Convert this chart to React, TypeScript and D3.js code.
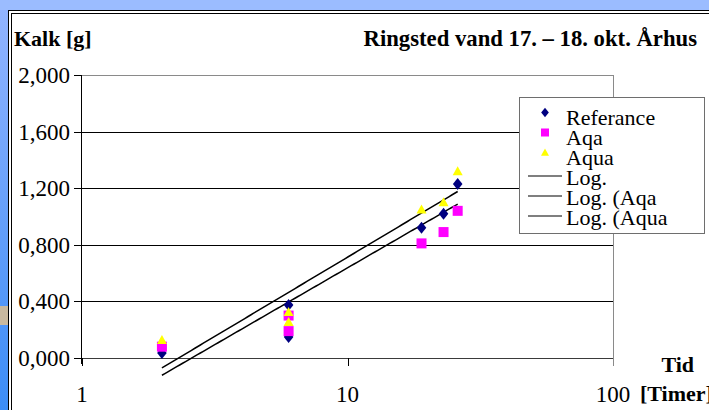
import React from "react";
import * as d3 from "d3";

// ---- data ----
const times = [2, 6, 6, 19, 23, 26];
const referanceVals = [0.035, 0.375, 0.148, 0.92, 1.02, 1.23];
const aqaVals = [0.08, 0.30, 0.19, 0.81, 0.89, 1.04];
const aquaVals = [0.127, 0.325, 0.254, 1.05, 1.1, 1.32];
const seriesNames = ["Referance", "Aqa", "Aqua"];
const trendLabels = ["Log.", "Log. (Aqa", "Log. (Aqua"];
const yTicks = [0, 0.4, 0.8, 1.2, 1.6, 2.0];
const xTicks = [1, 10, 100];
// which series have a visible logarithmic trend line in the picture
const trendOf = ["Referance", "Aqua"];

const W = 709;
const H = 410;

function logFit(xs: number[], ys: number[]) {
  const lx = xs.map((v) => Math.log(v));
  const mx = d3.mean(lx) as number;
  const my = d3.mean(ys) as number;
  let sxx = 0, sxy = 0;
  lx.forEach((v, i) => {
    sxx += (v - mx) * (v - mx);
    sxy += (v - mx) * (ys[i] - my);
  });
  const a = sxy / sxx;
  return { a, b: my - a * mx };
}

const valsByName: Record<string, number[]> = {
  Referance: referanceVals,
  Aqa: aqaVals,
  Aqua: aquaVals,
};

function Marker({ kind, x, y, s }: { kind: number; x: number; y: number; s: number }) {
  if (kind === 0) {
    const h = s * 0.6;
    const w = s * 0.48;
    return (
      <path
        d={`M${x},${y - h}L${x + w},${y}L${x},${y + h}L${x - w},${y}Z`}
        fill="#000080"
      />
    );
  }
  if (kind === 1) {
    const h = s / 2;
    return <rect x={x - h} y={y - h} width={s} height={s} fill="#ff00ff" />;
  }
  const h = s * 0.5;
  return (
    <path
      d={`M${x},${y - h}L${x + h},${y + h * 0.8}L${x - h},${y + h * 0.8}Z`}
      fill="#ffff00"
    />
  );
}

const FONT = "Liberation Serif, Times New Roman, DejaVu Serif, serif";

export default function App() {
  const x = d3.scaleLog().domain([1, 100]).range([82, 613]);
  const y = d3.scaleLinear().domain([0, 2]).range([358, 75]);
  const fmt = (v: number) => d3.format(".3f")(v).replace(".", ",");

  const tMin = d3.min(times) as number;
  const tMax = d3.max(times) as number;
  const samples = d3.range(0, 101).map((i) => tMin * Math.pow(tMax / tMin, i / 100));
  const line = d3
    .line<number[]>()
    .x((d) => x(d[0]))
    .y((d) => y(d[1]));

  const trends = trendOf.map((name) => {
    const { a, b } = logFit(times, valsByName[name]);
    return samples.map((t) => [t, a * Math.log(t) + b]);
  });

  const legX = 519, legY = 97, legW = 185, legH = 136;
  const legRow = (i: number) => 124.5 + i * 20;
  const ts = { fontFamily: FONT };

  return (
    <svg
      width={W}
      height={H}
      style={{ position: "absolute", left: 0, top: 0, display: "block", fontFamily: FONT }}
    >
      <defs>
        <linearGradient id="leftbg" x1="0" y1="0" x2="0" y2="1">
          <stop offset="0" stopColor="#92b4ff" />
          <stop offset="1" stopColor="#3a8cf6" />
        </linearGradient>
      </defs>
      {/* slide background */}
      <rect x={0} y={0} width={W} height={H} fill="#9bbcff" />
      <rect x={0} y={10} width={9} height={H} fill="url(#leftbg)" />
      <rect x={0} y={306} width={8} height={19} fill="#c9b99f" />
      {/* frame */}
      <rect x={8} y={10} width={W} height={H} fill="#ffffff" />
      <line x1={8.5} y1={10} x2={8.5} y2={H} stroke="#000" />
      <line x1={8} y1={10.5} x2={W} y2={10.5} stroke="#000" />
      <line x1={11.5} y1={13} x2={11.5} y2={H} stroke="#000" />
      <line x1={11} y1={13.5} x2={W} y2={13.5} stroke="#000" />

      {/* titles */}
      <text style={ts} x={14} y={46} fontSize={22} fontWeight="bold">Kalk [g]</text>
      <text style={ts} x={697} y={46} fontSize={22.7} fontWeight="bold" textAnchor="end">
        Ringsted vand 17. – 18. okt. Århus
      </text>

      {/* gridlines */}
      {yTicks.map((t) => (
        <line
          key={"g" + t}
          x1={82}
          x2={613}
          y1={Math.round(y(t)) + 0.5}
          y2={Math.round(y(t)) + 0.5}
          stroke={t === 2 ? "#8a8a8a" : t === 0 ? "#3a3a3a" : "#000"}
          strokeWidth={1}
        />
      ))}
      <line x1={613.5} x2={613.5} y1={75} y2={366} stroke="#8a8a8a" />
      {/* y axis */}
      <line x1={81.5} x2={81.5} y1={75} y2={364} stroke="#000" />
      {yTicks.map((t) => (
        <g key={"yt" + t}>
          <line x1={74} x2={82} y1={Math.round(y(t)) + 0.5} y2={Math.round(y(t)) + 0.5} stroke="#000" />
          <text style={ts} x={70} y={y(t) + 8} fontSize={23} textAnchor="end">{fmt(t)}</text>
        </g>
      ))}
      {/* x ticks */}
      {xTicks.map((t) => (
        <g key={"xt" + t}>
          <line x1={Math.round(x(t)) + 0.5} x2={Math.round(x(t)) + 0.5} y1={358} y2={366} stroke={t === 100 ? "#8a8a8a" : "#000"} />
          <text style={ts} x={x(t)} y={402} fontSize={23} textAnchor="middle">{t}</text>
        </g>
      ))}
      <text style={ts} x={694} y={372} fontSize={22} fontWeight="bold" textAnchor="end">Tid</text>
      <text style={ts} x={640} y={401} fontSize={22} fontWeight="bold">[Timer]</text>

      {/* trend lines */}
      {trends.map((pts, i) => (
        <path key={"tr" + i} d={line(pts) as string} fill="none" stroke="#000" strokeWidth={1.5} />
      ))}

      {/* points */}
      {seriesNames.map((name, si) =>
        valsByName[name].map((v, i) => (
          <Marker key={name + i} kind={si} x={x(times[i])} y={y(v)} s={10} />
        ))
      )}

      {/* legend */}
      <rect x={legX + 0.5} y={legY + 0.5} width={legW} height={legH} fill="#fff" stroke="#6e6e6e" />
      {seriesNames.map((name, i) => (
        <g key={"l" + name}>
          <Marker kind={i} x={545} y={legRow(i) - 12} s={8} />
          <text style={ts} x={566} y={legRow(i)} fontSize={22}>{name}</text>
        </g>
      ))}
      {trendLabels.map((name, i) => (
        <g key={"lt" + name}>
          <line x1={528} x2={562} y1={legRow(i + 3) - 8.5} y2={legRow(i + 3) - 8.5} stroke="#000" strokeWidth={1.2} />
          <text style={ts} x={566} y={legRow(i + 3)} fontSize={22}>{name}</text>
        </g>
      ))}
    </svg>
  );
}
